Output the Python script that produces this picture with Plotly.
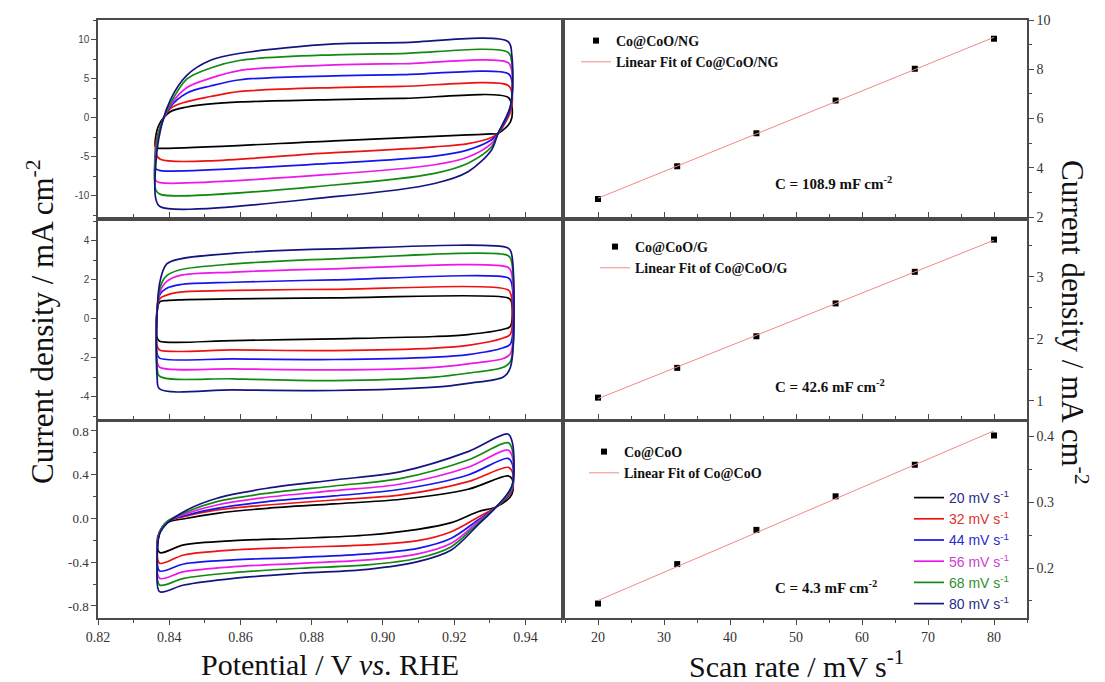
import numpy as np
import plotly.graph_objects as go

# ---------------------------------------------------------------- data
SCAN_RATES = [20, 32, 44, 56, 68, 80]  # mV s-1
LINE_COLORS = ["#000000", "#ee1111", "#1515ee", "#ee15ee", "#128a12", "#141480"]
LABEL_COLORS = ["#2a2a8a", "#e03030", "#2a2ad0", "#d040d0", "#309030", "#2a2a8a"]

# Co@CoO/NG cyclic voltammograms (closed loop: anodic sweep, reversal, cathodic sweep)
NG_POTENTIAL = [0.8362, 0.8370, 0.8403, 0.8450, 0.8516, 0.8600, 0.8863, 0.9051, 0.9351,
                0.9362, 0.9358, 0.9323, 0.9305, 0.9239, 0.9145, 0.8863, 0.8375]
NG_J20 = [-3.8, -1.0, 0.8, 1.4, 1.8, 2.05, 2.35, 2.5, 2.65, 1.5, -0.5, -2.0, -2.05, -2.17, -2.36, -2.93, -3.9]
NG_J32 = [-4.5, -1.8, 1.2, 2.1, 2.75, 3.4, 3.9, 4.05, 4.2, 3.2, 0.8, -2.0, -2.5, -3.3, -3.7, -4.45, -5.3]
NG_J44 = [-6.5, -2.0, 1.4, 3.2, 4.1, 4.9, 5.4, 5.55, 5.7, 4.8, 1.2, -2.0, -2.8, -4.1, -4.9, -5.8, -6.75]
NG_J56 = [-8.0, -2.0, 1.6, 3.9, 5.1, 6.1, 6.8, 6.95, 7.1, 6.0, 1.4, -2.0, -3.25, -5.0, -6.0, -7.2, -8.3]
NG_J68 = [-9.2, -2.0, 1.8, 5.0, 6.4, 7.4, 8.1, 8.25, 8.42, 7.0, 1.5, -2.0, -3.7, -5.8, -7.1, -8.6, -9.8]
NG_J80 = [-10.3, -2.8, 2.3, 5.5, 7.4, 8.3, 9.5, 9.66, 9.8, 8.0, 1.5, -2.0, -4.1, -6.9, -8.4, -10.1, -11.4]

# Co@CoO/G cyclic voltammograms
G_POTENTIAL = [0.8366, 0.8373, 0.8393, 0.8431, 0.8581, 0.8863, 0.9351, 0.9360,
               0.9358, 0.9338, 0.9239, 0.9145, 0.8863, 0.8581, 0.8373]
G_J20 = [-1.0, 0.85, 0.92, 0.96, 1.01, 1.06, 1.06, 0.9, -0.4, -0.55, -0.82, -0.92, -1.04, -1.13, -1.16]
G_J32 = [-1.4, 1.0, 1.2, 1.35, 1.44, 1.50, 1.47, 1.2, -0.8, -1.0, -1.38, -1.52, -1.64, -1.61, -1.61]
G_J44 = [-1.8, 1.2, 1.55, 1.74, 1.86, 1.98, 2.09, 1.9, -1.3, -1.5, -1.85, -1.98, -2.10, -2.07, -2.03]
G_J56 = [-2.2, 1.3, 1.9, 2.21, 2.38, 2.55, 2.63, 2.4, -1.8, -2.05, -2.32, -2.5, -2.63, -2.58, -2.5]
G_J68 = [-2.5, 1.5, 2.2, 2.5, 2.8, 3.06, 3.23, 3.0, -2.2, -2.5, -2.8, -3.0, -3.18, -3.09, -2.96]
G_J80 = [-3.0, 1.8, 2.8, 3.06, 3.35, 3.57, 3.62, 3.4, -2.5, -3.0, -3.32, -3.52, -3.69, -3.66, -3.61]

# Co@CoO cyclic voltammograms
C_POTENTIAL = [0.8366, 0.8373, 0.8394, 0.8450, 0.8534, 0.8675, 0.8863, 0.9051, 0.9239, 0.9351,
               0.9363, 0.9362, 0.9319, 0.9267, 0.9192, 0.9098, 0.8957, 0.8769, 0.8581, 0.8441, 0.8373]
C_J20 = [-0.22, -0.12, -0.038, 0.002, 0.047, 0.093, 0.133, 0.176, 0.267, 0.389, 0.36, 0.22, 0.108,
         0.062, -0.038, -0.099, -0.151, -0.181, -0.203, -0.242, -0.312]
C_J32 = [-0.30, -0.13, -0.029, 0.023, 0.078, 0.123, 0.169, 0.215, 0.337, 0.468, 0.43, 0.25, 0.108,
         0.011, -0.121, -0.203, -0.242, -0.263, -0.288, -0.334, -0.410]
C_J44 = [-0.33, -0.13, -0.029, 0.032, 0.093, 0.154, 0.206, 0.267, 0.398, 0.550, 0.50, 0.26, 0.108,
         -0.014, -0.181, -0.273, -0.324, -0.355, -0.379, -0.416, -0.480]
C_J56 = [-0.36, -0.13, -0.029, 0.047, 0.123, 0.194, 0.254, 0.315, 0.468, 0.626, 0.57, 0.27, 0.108,
         -0.029, -0.227, -0.324, -0.379, -0.410, -0.441, -0.486, -0.547]
C_J68 = [-0.40, -0.13, -0.029, 0.062, 0.154, 0.230, 0.297, 0.367, 0.535, 0.693, 0.63, 0.28, 0.108,
         -0.044, -0.258, -0.364, -0.425, -0.455, -0.495, -0.547, -0.608]
C_J80 = [-0.45, -0.142, -0.044, 0.078, 0.185, 0.276, 0.352, 0.428, 0.611, 0.772, 0.70, 0.30, 0.108,
         -0.059, -0.288, -0.395, -0.465, -0.501, -0.547, -0.608, -0.669]

# Capacitive current density vs. scan rate
SCAN_RATE_X = [20, 32, 44, 56, 68, 80]
NG_DELTA_J = [2.73, 4.06, 5.40, 6.73, 8.02, 9.24]
G_DELTA_J = [1.05, 1.53, 2.04, 2.57, 3.08, 3.60]
C_DELTA_J = [0.146, 0.206, 0.258, 0.309, 0.357, 0.4015]
CAPACITANCE = [108.9, 42.6, 4.3]  # mF cm-2
SAMPLES = ["Co@CoO/NG", "Co@CoO/G", "Co@CoO"]

# tick labels of the voltammogram current axes (plain hyphen minus)
CV_TICKVALS = [[-10, -5, 0, 5, 10], [-4, -2, 0, 2, 4], [-0.8, -0.4, 0.0, 0.4, 0.8]]
CV_TICKTEXT = [["-10", "-5", "0", "5", "10"], ["-4", "-2", "0", "2", "4"],
               ["-0.8", "-0.4", "0.0", "0.4", "0.8"]]

# ---------------------------------------------------------------- layout geometry
W, H = 1105, 682


def px(x):
    return x / W


def py(y):
    return 1 - y / H


LEFT_DOM = [px(98), px(561)]
RIGHT_DOM = [px(565), px(1027)]
ROW_DOM = [[py(217), py(20)], [py(419), py(221)], [py(618), py(422)]]

SERIF = "Liberation Serif"
SANS = "Liberation Sans"
FRAME = "#4a4a4a"

fig = go.Figure()

cv_sets = [
    (NG_POTENTIAL, [NG_J20, NG_J32, NG_J44, NG_J56, NG_J68, NG_J80]),
    (G_POTENTIAL, [G_J20, G_J32, G_J44, G_J56, G_J68, G_J80]),
    (C_POTENTIAL, [C_J20, C_J32, C_J44, C_J56, C_J68, C_J80]),
]

for row, (pot, currents) in enumerate(cv_sets):
    xa = f"x{2 * row + 1}" if row else "x"
    ya = f"y{2 * row + 1}" if row else "y"
    for k, (rate, j) in enumerate(zip(SCAN_RATES, currents)):
        xs = list(pot) + [pot[0]]
        ys = list(j) + [j[0]]
        fig.add_trace(go.Scatter(
            x=xs, y=ys, mode="lines", xaxis=xa, yaxis=ya,
            line=dict(color=LINE_COLORS[k], width=1.7, shape="spline", smoothing=0.9),
            name=f'<span style="color:{LABEL_COLORS[k]}">{rate} mV s<sup>-1</sup></span>',
            legendgroup=str(rate), showlegend=(row == 2), legend="legend",
        ))

fit_sets = [NG_DELTA_J, G_DELTA_J, C_DELTA_J]
for row, (dj, cap, label) in enumerate(zip(fit_sets, CAPACITANCE, SAMPLES)):
    xa = f"x{2 * row + 2}"
    ya = f"y{2 * row + 2}"
    leg = f"legend{row + 2}"
    fig.add_trace(go.Scatter(
        x=SCAN_RATE_X, y=dj, mode="markers", xaxis=xa, yaxis=ya,
        marker=dict(symbol="square", size=6, color="black"),
        name=f"<b>{label}</b>", legend=leg,
    ))
    # linear fit drawn with the slope given by the stated capacitance
    xr = np.array(SCAN_RATE_X, dtype=float)
    slope = cap / 1000.0
    yfit = np.mean(dj) + slope * (xr - xr.mean())
    fig.add_trace(go.Scatter(
        x=[xr[0], xr[-1]], y=[yfit[0], yfit[-1]], mode="lines", xaxis=xa, yaxis=ya,
        line=dict(color="#f08a8a", width=1),
        name=f"<b>Linear Fit of {label}</b>", legend=leg,
    ))
    fig.add_annotation(
        x=px(773), y=py([183, 386, 587][row]), xref="paper", yref="paper",
        xanchor="left", yanchor="middle", showarrow=False,
        text=f"<b>C = {cap} mF cm<sup>-2</sup></b>",
        font=dict(family=SERIF, size=15, color="#111"),
    )


def axis_common():
    return dict(showline=True, linecolor=FRAME, linewidth=1.5, mirror=True,
                showgrid=False, zeroline=False, ticklen=5, tickwidth=1,
                tickcolor=FRAME, automargin=False)


layout = {}
cv_yranges = [[-12.7, 12.56], [-5.15, 5.0], [-0.91, 0.882]]
cv_ydtick = [5, 2, 0.4]
fit_yranges = [[2, 10], [0.705, 3.9], [0.124, 0.422]]
fit_ydtick = [2, 1, 0.1]

for row in range(3):
    bottom = row == 2
    ln = 2 * row + 1
    rn = 2 * row + 2
    lx = "xaxis" if ln == 1 else f"xaxis{ln}"
    ly = "yaxis" if ln == 1 else f"yaxis{ln}"
    rx = f"xaxis{rn}"
    ry = f"yaxis{rn}"
    lxa = "x" if ln == 1 else f"x{ln}"
    lya = "y" if ln == 1 else f"y{ln}"

    layout[lx] = dict(axis_common(), domain=LEFT_DOM, anchor=lya, range=[0.82, 0.95],
                      dtick=0.02, tick0=0.82, tickformat=".2f",
                      ticks="outside" if bottom else "inside", showticklabels=bottom,
                      minor=dict(dtick=0.01, tick0=0.82, ticklen=3, tickcolor=FRAME,
                                 ticks="outside" if bottom else "inside"),
                      tickfont=dict(family=SERIF, size=14, color="#333"))
    layout[ly] = dict(axis_common(), domain=ROW_DOM[row], anchor=lxa,
                      range=cv_yranges[row], tickmode="array",
                      tickvals=CV_TICKVALS[row], ticktext=CV_TICKTEXT[row],
                      ticks="outside",
                      minor=dict(tickmode="linear", dtick=cv_ydtick[row] / 2, tick0=0,
                                 ticklen=3, tickcolor=FRAME, ticks="outside"),
                      tickfont=(dict(family=SERIF, size=13, color="#333") if bottom
                                else dict(family=SANS, size=10, color="#444")))
    layout[rx] = dict(axis_common(), domain=RIGHT_DOM, anchor=f"y{rn}", range=[15, 85],
                      dtick=10, tick0=0,
                      ticks="outside" if bottom else "inside", showticklabels=bottom,
                      minor=dict(dtick=5, tick0=0, ticklen=3, tickcolor=FRAME,
                                 ticks="outside" if bottom else "inside"),
                      tickfont=dict(family=SERIF, size=14, color="#333"))
    layout[ry] = dict(axis_common(), domain=ROW_DOM[row], anchor=f"x{rn}", side="right",
                      range=fit_yranges[row], dtick=fit_ydtick[row], tick0=0,
                      ticks="outside",
                      minor=dict(dtick=fit_ydtick[row] / 2, tick0=0, ticklen=3,
                                 tickcolor=FRAME, ticks="outside"),
                      tickfont=dict(family=SERIF, size=14, color="#333"))

fig.update_layout(**layout)

legend_fit_font = dict(family=SERIF, size=14, color="#111")
fig.update_layout(
    width=W, height=H,
    margin=dict(l=0, r=0, t=0, b=0),
    paper_bgcolor="white", plot_bgcolor="white",
    legend=dict(x=px(909), y=py(482), xanchor="left", yanchor="top",
                font=dict(family=SANS, size=14), bgcolor="rgba(0,0,0,0)",
                tracegroupgap=0, traceorder="normal"),
    legend2=dict(x=px(576), y=py(25), xanchor="left", yanchor="top",
                 font=legend_fit_font, bgcolor="rgba(0,0,0,0)"),
    legend3=dict(x=px(595), y=py(231), xanchor="left", yanchor="top",
                 font=legend_fit_font, bgcolor="rgba(0,0,0,0)"),
    legend4=dict(x=px(584), y=py(436), xanchor="left", yanchor="top",
                 font=legend_fit_font, bgcolor="rgba(0,0,0,0)"),
)

titles = [
    (40, 322, "Current density / mA cm<sup>-2</sup>", -90, 31),
    (1075, 322, "Current density / mA cm<sup>-2</sup>", 90, 31),
    (330, 664, "Potential / V <i>vs</i>. RHE", 0, 30),
    (796, 664, "Scan rate / mV s<sup>-1</sup>", 0, 30),
]
for tx, ty, text, angle, size in titles:
    fig.add_annotation(x=px(tx), y=py(ty), xref="paper", yref="paper", showarrow=False,
                       xanchor="center", yanchor="middle", text=text, textangle=angle,
                       font=dict(family=SERIF, size=size, color="#111"))

fig.write_html("out.html")
